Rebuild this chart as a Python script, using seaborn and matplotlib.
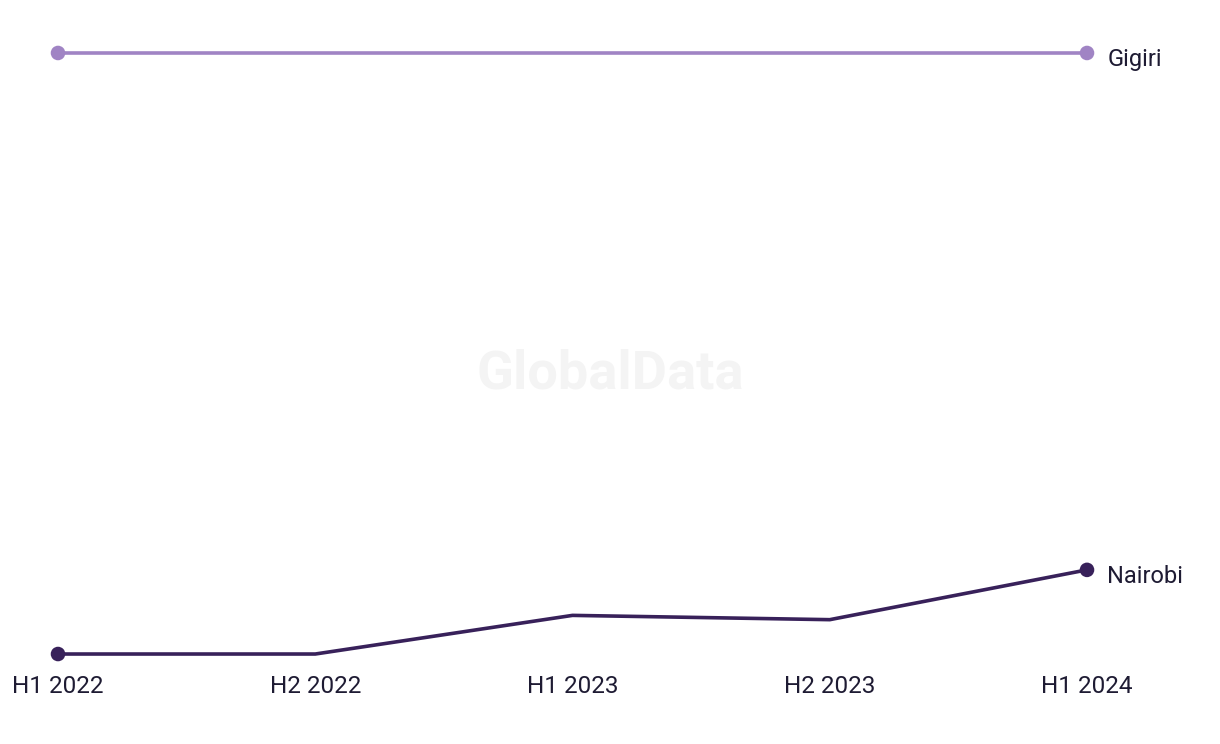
import matplotlib
matplotlib.use("Agg")
import matplotlib.pyplot as plt
import seaborn as sns
import pandas as pd

periods = ["H1 2022", "H2 2022", "H1 2023", "H2 2023", "H1 2024"]
gigiri = [100.0, 100.0, 100.0, 100.0, 100.0]
nairobi = [30.0, 30.0, 34.5, 34.0, 39.8]
series_names = ["Gigiri", "Nairobi"]
colors = {"Gigiri": "#A084C4", "Nairobi": "#38215A"}

df = pd.DataFrame({
    "period": periods * 2,
    "x": list(range(len(periods))) * 2,
    "value": gigiri + nairobi,
    "series": ["Gigiri"] * len(periods) + ["Nairobi"] * len(periods),
})
last = len(periods) - 1
ends = df[df["x"].isin([0, last])]

sns.set_theme(style="white")
plt.rcParams["font.family"] = ["Roboto", "DejaVu Sans"]

fig = plt.figure(figsize=(12.2, 7.44), dpi=100)
ax = fig.add_axes([0, 0, 1, 1])
ax.set_facecolor("none")

sns.lineplot(data=df, x="x", y="value", hue="series", palette=colors,
             linewidth=2.6, legend=False, ax=ax)
sns.scatterplot(data=ends, x="x", y="value", hue="series", palette=colors,
                s=110, linewidth=0, legend=False, ax=ax, zorder=3)

ax.set_xlim(-0.2255, 4.517)
ax.set_ylim(19.52, 106.17)

ax.text(0.5, 0.497, "GlobalData", transform=ax.transAxes, ha="center", va="center",
        fontsize=39, fontweight="bold", color="#F4F4F4", zorder=0)

for name, vals in zip(series_names, [gigiri, nairobi]):
    ax.annotate(name, xy=(last, vals[-1]), xytext=(14.5, -5),
                textcoords="offset points", ha="left", va="center",
                fontsize=17, color="#1E1B33")

for i, p in enumerate(periods):
    ax.annotate(p, xy=(i, nairobi[0]), xytext=(0, -23.5), textcoords="offset points",
                ha="center", va="center", fontsize=17.5, color="#1E1B33")

ax.set_xticks([])
ax.set_yticks([])
ax.set_xlabel("")
ax.set_ylabel("")
for s in ax.spines.values():
    s.set_visible(False)

fig.savefig("out.png", dpi=100, facecolor="white")
